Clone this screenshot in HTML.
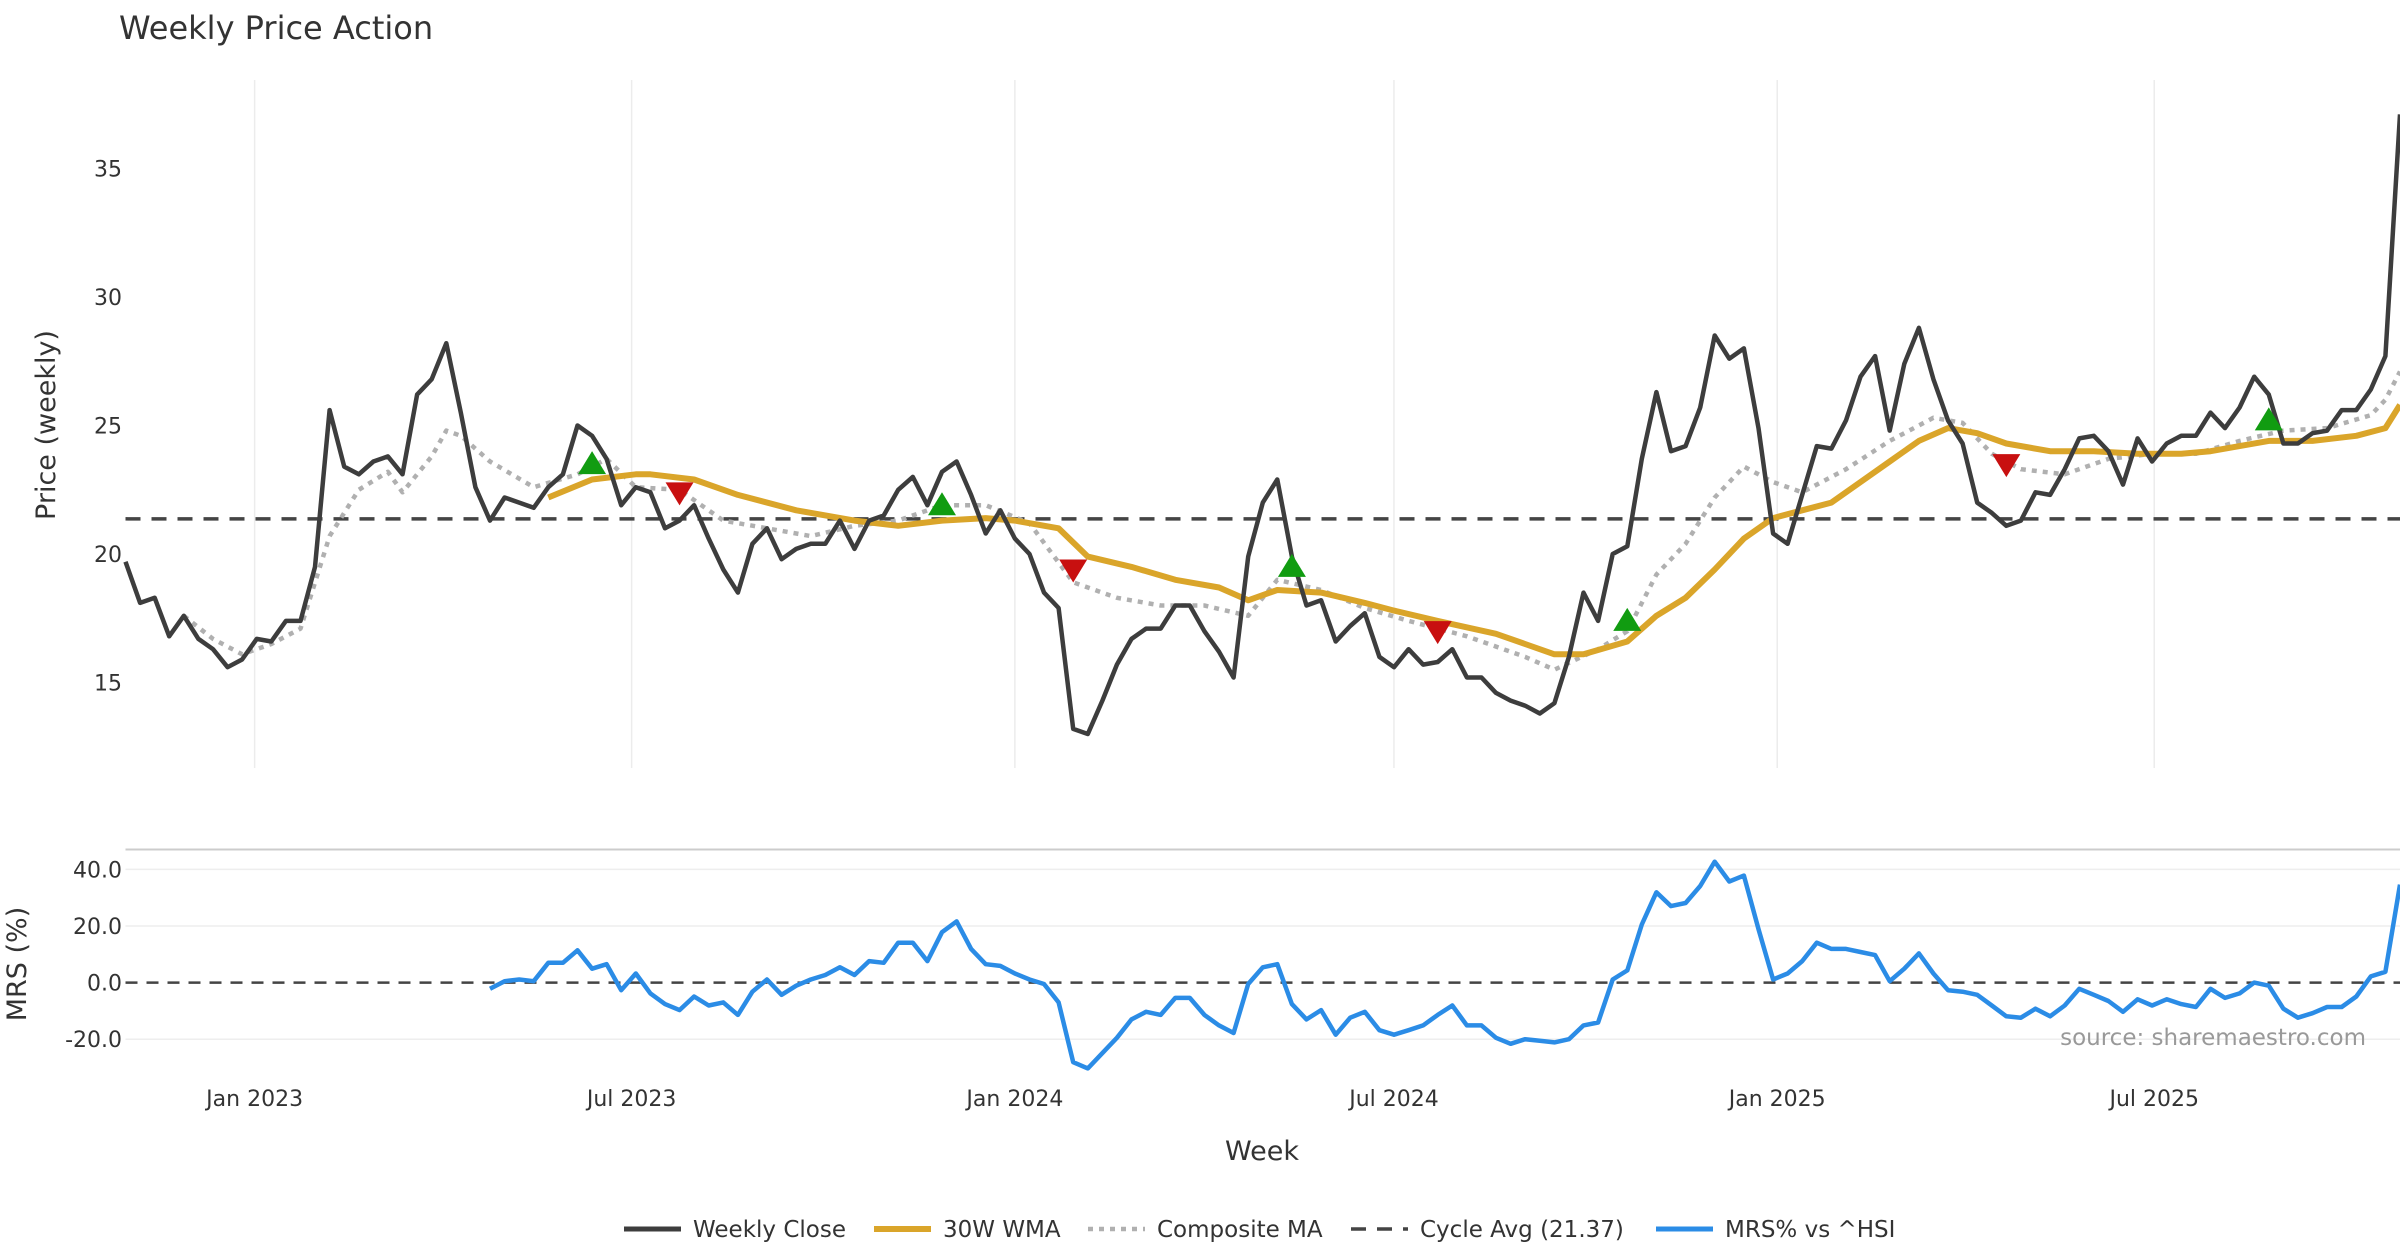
<!DOCTYPE html>
<html><head><meta charset="utf-8"><style>
html,body{margin:0;padding:0;background:#fff;}
svg{display:block;font-family:"DejaVu Sans","Liberation Sans",sans-serif;}
</style></head><body>
<svg id="chart" width="2400" height="1260" viewBox="0 0 2400 1260" xmlns="http://www.w3.org/2000/svg">
<rect width="2400" height="1260" fill="#fff"/>
<text x="119" y="39" font-size="32" fill="#333">Weekly Price Action</text>
<g id="grid"></g>
<g id="main"></g>
<g id="lower"></g>
<g id="axes"></g>
<text transform="translate(55,425) rotate(-90)" text-anchor="middle" font-size="27" fill="#333">Price (weekly)</text>
<text transform="translate(26,964) rotate(-90)" text-anchor="middle" font-size="27" fill="#333">MRS (%)</text>
<text x="1262" y="1160" text-anchor="middle" font-size="27" fill="#333">Week</text>
<text x="2366" y="1045" text-anchor="end" font-size="23" fill="#999">source: sharemaestro.com</text>
<g id="legend"></g>
</svg>
<script>
const closeVals=[19.7,18.1,18.3,16.8,17.6,16.7,16.3,15.6,15.9,16.7,16.6,17.4,17.4,19.5,25.6,23.4,23.1,23.6,23.8,23.1,26.2,26.8,28.2,25.5,22.6,21.3,22.2,22.0,21.8,22.6,23.1,25.0,24.6,23.7,21.9,22.6,22.4,21.0,21.3,21.9,20.6,19.4,18.5,20.4,21.0,19.8,20.2,20.4,20.4,21.3,20.2,21.3,21.5,22.5,23.0,21.9,23.2,23.6,22.3,20.8,21.7,20.6,20.0,18.5,17.9,13.2,13.0,14.3,15.7,16.7,17.1,17.1,18.0,18.0,17.0,16.2,15.2,19.9,22.0,22.9,19.9,18.0,18.2,16.6,17.2,17.7,16.0,15.6,16.3,15.7,15.8,16.3,15.2,15.2,14.6,14.3,14.1,13.8,14.2,16.0,18.5,17.4,20.0,20.3,23.7,26.3,24.0,24.2,25.7,28.5,27.6,28.0,24.9,20.8,20.4,22.3,24.2,24.1,25.2,26.9,27.7,24.8,27.4,28.8,26.8,25.2,24.3,22.0,21.6,21.1,21.3,22.4,22.3,23.3,24.5,24.6,24.0,22.7,24.5,23.6,24.3,24.6,24.6,25.5,24.9,25.7,26.9,26.2,24.3,24.3,24.7,24.8,25.6,25.6,26.4,27.7,37.1];
const wmaWeeks=[29,32,35,36,39,42,46,50,53,56,59,61,64,66,69,72,75,77,79,82,85,87,90,94,98,100,103,105,107,109,111,113,115,117,119,121,123,125,127,129,132,135,138,141,143,145,147,150,153,155,156];
const wmaVals=[22.2,22.9,23.1,23.1,22.9,22.3,21.7,21.3,21.1,21.3,21.4,21.3,21.0,19.9,19.5,19.0,18.7,18.2,18.6,18.5,18.1,17.8,17.4,16.9,16.1,16.1,16.6,17.6,18.3,19.4,20.6,21.4,21.7,22.0,22.8,23.6,24.4,24.9,24.7,24.3,24.0,24.0,23.9,23.9,24.0,24.2,24.4,24.4,24.6,24.9,25.8];
const compWeeks=[4,6,8,10,12,14,16,18,19,21,22,23,25,28,31,33,35,38,41,44,47,50,53,56,59,62,65,68,71,74,77,79,82,85,88,92,96,98,101,103,105,107,109,111,113,115,118,121,124,126,128,130,133,136,139,142,145,148,151,154,155,156];
const compVals=[17.6,16.7,16.1,16.5,17.1,20.7,22.5,23.2,22.4,23.8,24.8,24.6,23.6,22.6,23.1,23.7,22.6,22.5,21.3,21.0,20.7,21.1,21.3,21.9,21.9,21.2,18.9,18.3,18.0,18.0,17.6,19.0,18.6,17.9,17.4,16.8,16.0,15.5,16.3,17.0,19.2,20.4,22.2,23.4,22.8,22.4,23.3,24.4,25.3,25.1,23.9,23.3,23.1,23.7,23.9,23.9,24.4,24.8,24.9,25.4,26.0,27.1];
const buyWeeks=[32,56,80,103,147];
const buyVals=[23.5,21.9,19.5,17.4,25.2];
const sellWeeks=[38,65,90,129];
const sellVals=[22.4,19.4,17.0,23.5];
const cycleAvg=21.37;
const mrsVals=[-2.2,0.5,1.1,0.5,7.0,7.0,11.4,4.9,6.5,-2.7,3.2,-3.8,-7.6,-9.7,-4.9,-8.1,-7.0,-11.4,-3.2,1.1,-4.3,-1.1,1.1,2.7,5.4,2.7,7.6,7.0,14.1,14.1,7.6,17.8,21.6,11.9,6.5,5.9,3.2,1.1,-0.5,-7.0,-28.1,-30.3,-24.9,-19.5,-13.0,-10.3,-11.4,-5.4,-5.4,-11.4,-15.1,-17.8,-0.5,5.4,6.5,-7.6,-13.0,-9.7,-18.4,-12.4,-10.3,-16.8,-18.4,-16.8,-15.1,-11.4,-8.1,-15.1,-15.1,-19.5,-21.6,-20.0,-20.5,-21.1,-20.0,-15.1,-14.1,1.1,4.3,20.5,31.9,27.0,28.1,34.1,42.7,35.7,37.8,18.9,1.1,3.2,7.6,14.1,11.9,11.9,10.8,9.7,0.5,4.9,10.3,3.2,-2.7,-3.2,-4.3,-8.1,-11.9,-12.4,-9.2,-11.9,-8.1,-2.2,-4.3,-6.5,-10.3,-5.9,-8.1,-5.9,-7.6,-8.6,-2.2,-5.4,-3.8,0,-1.1,-9.2,-12.4,-10.8,-8.6,-8.6,-4.9,2.2,3.8,34.6];
const priceTicks=[15,20,25,30,35];
const mrsTicks=[-20,0,20,40];
const dateTicks=["2023-01-01","2023-07-01","2024-01-01","2024-07-01","2025-01-01","2025-07-01"];
const dateLabels=["Jan 2023","Jul 2023","Jan 2024","Jul 2024","Jan 2025","Jul 2025"];
const startDate="2022-10-31";

const NS="http://www.w3.org/2000/svg";
const L=125.5,R=2400,PT=80,PB=768,LT=849.5;
const N=closeVals.length;
const step=(R-L)/(N-1);
function xw(i){return L+i*step;}
function xd(d){return L+((new Date(d)-new Date(startDate))/86400000/7)*step;}
function yp(v){return 682.6-(v-15)*25.71;}
function ym(v){return 982.6-v*2.832;}
function mk(tag,attrs,parent){const e=document.createElementNS(NS,tag);for(const k in attrs)e.setAttribute(k,attrs[k]);parent.appendChild(e);return e;}
const gridG=document.getElementById('grid'),mainG=document.getElementById('main'),lowerG=document.getElementById('lower'),axesG=document.getElementById('axes'),legendG=document.getElementById('legend');

dateTicks.forEach((d,k)=>{
  const x=xd(d);
  const g=mk('line',{x1:x,x2:x,y1:PT,y2:PB,stroke:'#ececec','stroke-width':1.5},gridG);
  
  
  const t=mk('text',{x:x,y:1106,'text-anchor':'middle','font-size':22,fill:'#333'},axesG);
  t.textContent=dateLabels[k];
  
  
});
priceTicks.forEach(v=>{
  const t=mk('text',{x:122,y:yp(v)+8,'text-anchor':'end','font-size':22,fill:'#333'},axesG);
  t.textContent=v;
  
  
});
const borderLine=mk('line',{x1:L,x2:R,y1:LT,y2:LT,stroke:'#ccc','stroke-width':2},lowerG);


mrsTicks.forEach(v=>{
  if(v!==0){const g=mk('line',{x1:L,x2:R,y1:ym(v),y2:ym(v),stroke:'#eeeeee','stroke-width':1.5},lowerG);
  
  }
  const t=mk('text',{x:122,y:ym(v)+8,'text-anchor':'end','font-size':22,fill:'#333'},axesG);
  t.textContent=v.toFixed(1);
  
  
});
function poly(pts,attrs,parent,name){const p=mk('polyline',Object.assign({points:pts.map(p=>p[0].toFixed(1)+','+p[1].toFixed(1)).join(' '),fill:'none','stroke-linejoin':'round'},attrs),parent);return p;}

const ca=mk('line',{x1:L,x2:R,y1:yp(cycleAvg),y2:yp(cycleAvg),stroke:'#444','stroke-width':3.5,'stroke-dasharray':'15,11'},mainG);


poly(compWeeks.map((w,i)=>[xw(w),yp(compVals[i])]),{stroke:'#b0b0b0','stroke-width':4.5,'stroke-dasharray':'5,6'},mainG,'composite-ma-line');
poly(wmaWeeks.map((w,i)=>[xw(w),yp(wmaVals[i])]),{stroke:'#daa52a','stroke-width':6},mainG,'wma-30w-line');
poly(closeVals.map((v,i)=>[xw(i),yp(v)]),{stroke:'#3d3d3d','stroke-width':4.5},mainG,'weekly-close-line');
buyWeeks.forEach((w,i)=>{const x=xw(w),y=yp(buyVals[i]);
  const t=mk('polygon',{points:`${x-14},${y+10} ${x+14},${y+10} ${x},${y-13}`,fill:'#119c11'},mainG);
  
  });
sellWeeks.forEach((w,i)=>{const x=xw(w),y=yp(sellVals[i]);
  const t=mk('polygon',{points:`${x-14},${y-10} ${x+14},${y-10} ${x},${y+13}`,fill:'#c81010'},mainG);
  
  });

const z=mk('line',{x1:L,x2:R,y1:ym(0),y2:ym(0),stroke:'#444','stroke-width':2.5,'stroke-dasharray':'12,9'},lowerG);


const off=N-mrsVals.length;
poly(mrsVals.map((v,i)=>[xw(i+off),ym(v)]),{stroke:'#2b8ce6','stroke-width':4.5},lowerG,'mrs-line');

const leg=[["Weekly Close",624,{stroke:'#3d3d3d','stroke-width':5}],["30W WMA",874,{stroke:'#daa52a','stroke-width':6}],["Composite MA",1088,{stroke:'#b0b0b0','stroke-width':4.5,'stroke-dasharray':'5,6'}],["Cycle Avg (21.37)",1351,{stroke:'#444','stroke-width':3.5,'stroke-dasharray':'15,11'}],["MRS% vs ^HSI",1656,{stroke:'#2b8ce6','stroke-width':5}]];
leg.forEach(e=>{
  const l=mk('line',Object.assign({x1:e[1],x2:e[1]+57,y1:1229,y2:1229},e[2]),legendG);
  
  
  const t=mk('text',{x:e[1]+69,y:1237,'font-size':23,fill:'#333'},legendG);
  t.textContent=e[0];
  
  
});
</script>
</body></html>
